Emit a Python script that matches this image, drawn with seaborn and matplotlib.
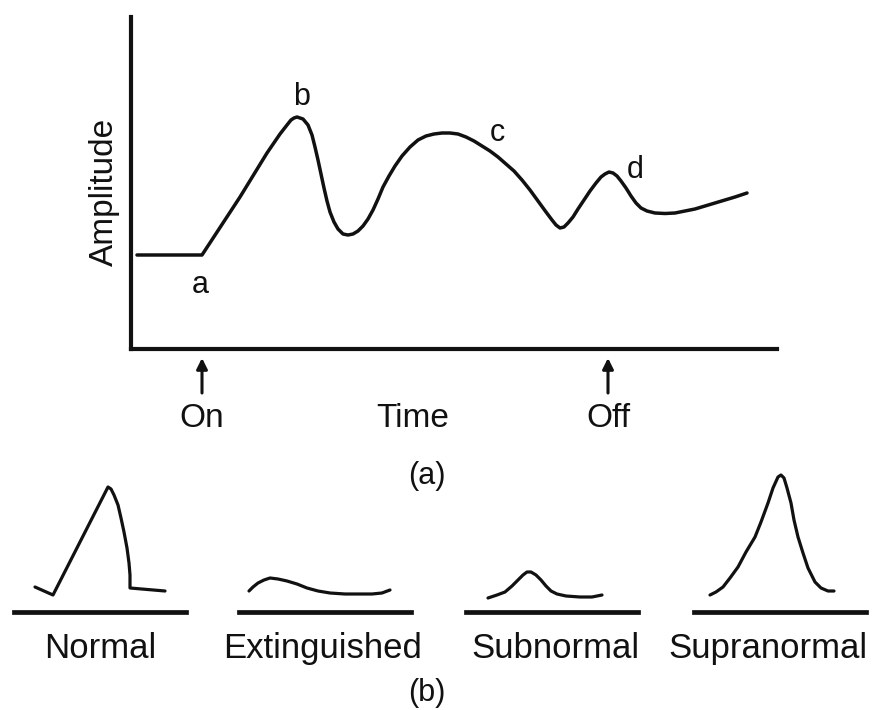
import matplotlib
matplotlib.use("Agg")
import matplotlib.pyplot as plt
import seaborn as sns

sns.set_theme(style="white")
plt.rcParams["font.family"] = ["Liberation Sans", "DejaVu Sans"]

INK = "#111111"

# (a) response to a light flash: time vs amplitude
time = [0.6, 7.1, 10.9, 13.6, 14.9, 15.6, 16.0, 16.3, 16.6, 17.2,
        17.7, 18.1, 18.4, 18.7, 19.0, 19.3, 19.6, 19.9, 20.3, 20.7,
        21.2, 21.7, 22.2, 22.7, 23.2, 23.7, 24.2, 24.7, 25.2, 25.8,
        26.4, 27.1, 27.9, 28.7, 29.5, 30.3, 31.1, 31.9, 32.7, 33.5,
        34.3, 35.1, 35.9, 36.7, 37.5, 38.3, 39.1, 39.9, 40.7, 41.5,
        42.1, 42.5, 42.9, 43.3, 43.7, 44.2, 44.7, 45.3, 45.9, 46.5,
        47.0, 47.4, 47.8, 48.2, 48.6, 49.0, 49.5, 50.0, 50.5, 51.0,
        51.6, 52.4, 53.4, 54.4, 55.4, 56.4, 57.4, 58.4, 59.4, 60.4,
        61.6]
amplitude = [9.4, 9.4, 15.2, 19.6, 21.5, 22.4, 22.9, 23.1, 23.2, 23.0,
             22.4, 21.4, 20.2, 18.9, 17.5, 16.1, 14.8, 13.7, 12.7, 12.0,
             11.5, 11.4, 11.5, 11.8, 12.3, 13.0, 13.9, 15.0, 16.2, 17.3,
             18.3, 19.3, 20.2, 20.9, 21.3, 21.5, 21.6, 21.6, 21.5, 21.2,
             20.8, 20.3, 19.8, 19.2, 18.5, 17.8, 16.9, 15.9, 14.8, 13.7,
             12.9, 12.4, 12.1, 12.2, 12.6, 13.2, 14.0, 14.9, 15.8, 16.6,
             17.2, 17.5, 17.7, 17.6, 17.3, 16.8, 16.1, 15.3, 14.6, 14.1,
             13.8, 13.6, 13.55, 13.6, 13.8, 14.0, 14.3, 14.6, 14.9, 15.2,
             15.6]

wave_labels = ["a", "b", "c", "d"]
wave_label_t = [6.9, 17.1, 36.6, 50.4]
wave_label_amp = [6.4, 25.2, 21.6, 17.9]

stim_names = ["On", "Off"]
stim_t = [7.1, 47.7]

# (b) response types
type_names = ["Normal", "Extinguished", "Subnormal", "Supranormal"]
normal_x = [2.1, 3.9, 9.4, 9.7, 10.0, 10.4, 10.7, 11.0, 11.3, 11.5, 11.6, 11.6, 15.1]
normal_y = [2.5, 1.7, 12.5, 12.3, 11.7, 10.7, 9.4, 8.0, 6.4, 4.9, 3.7, 2.4, 2.1]
extinct_x = [1.0, 1.4, 1.9, 2.5, 3.1, 3.9, 4.8, 5.8, 6.8, 7.9, 9.1, 10.6, 12.1,
             13.3, 14.3, 15.1]
extinct_y = [2.1, 2.5, 2.9, 3.2, 3.4, 3.3, 3.1, 2.8, 2.4, 2.1, 1.9, 1.8, 1.8,
             1.8, 1.9, 2.2]
subnormal_x = [2.2, 3.1, 3.9, 4.6, 5.2, 5.7, 6.1, 6.5, 7.0, 7.5, 8.0, 8.5, 9.1,
               10.0, 11.4, 12.6, 13.6]
subnormal_y = [1.4, 1.7, 2.0, 2.6, 3.2, 3.7, 4.0, 4.0, 3.7, 3.2, 2.6, 2.1, 1.8,
               1.6, 1.5, 1.5, 1.7]
supra_x = [1.6, 2.2, 2.9, 3.6, 4.4, 5.2, 6.1, 6.7, 7.4, 7.9, 8.4, 8.7, 9.0, 9.3,
           9.7, 10.0, 10.4, 10.9, 11.4, 12.1, 12.7, 13.4, 14.0]
supra_y = [1.7, 2.0, 2.5, 3.4, 4.5, 6.0, 7.5, 9.0, 10.9, 12.4, 13.5, 13.7, 13.4,
           12.4, 10.9, 9.2, 7.5, 5.9, 4.4, 3.0, 2.4, 2.1, 2.1]

W, H = 878, 710
fig = plt.figure(figsize=(W / 100, H / 100), dpi=100)


def px_box(left, top, right, bottom):
    return [left / W, 1 - bottom / H, (right - left) / W, (bottom - top) / H]


line_kw = dict(sort=False, estimator=None, color=INK,
               solid_joinstyle="round", solid_capstyle="round")

# ---- panel (a) ----
ax = fig.add_axes(px_box(131, 17, 777, 349))
sns.lineplot(x=time, y=amplitude, ax=ax, linewidth=2.5, **line_kw)
ax.set_xlim(0, 64.6)
ax.set_ylim(0, 33.2)
ax.set_xticks([])
ax.set_yticks([])
ax.set_xlabel("")
ax.set_ylabel("")
for side in ["top", "right"]:
    ax.spines[side].set_visible(False)
for side in ["left", "bottom"]:
    ax.spines[side].set_color(INK)
    ax.spines[side].set_linewidth(3.0)

for lab, t, a in zip(wave_labels, wave_label_t, wave_label_amp):
    ax.text(t, a, lab, ha="center", va="center", fontsize=22, color=INK)

for name, t in zip(stim_names, stim_t):
    ax.annotate("", xy=(t, -0.9), xytext=(t, -4.4),
                arrowprops=dict(arrowstyle="-|>", color=INK, lw=2.2,
                                mutation_scale=16, shrinkA=0, shrinkB=0),
                annotation_clip=False)
    ax.text(t, -7.8, name, ha="center", va="baseline", fontsize=24,
            color=INK, clip_on=False)
ax.text(28.2, -7.8, "Time", ha="center", va="baseline", fontsize=24,
        color=INK, clip_on=False)

fig.text(104 / W, 1 - 192 / H, "Amplitude", rotation=90, ha="center",
         va="center", fontsize=24, color=INK)
fig.text(427 / W, 1 - 484 / H, "(a)", ha="center", va="baseline",
         fontsize=22, color=INK)

# ---- panel (b) ----
panel_left = [14, 239, 466, 694]
label_center = [100, 323, 555, 768]
waves = [(normal_x, normal_y), (extinct_x, extinct_y),
         (subnormal_x, subnormal_y), (supra_x, supra_y)]
for left, name, (wx, wy), lc in zip(panel_left, type_names, waves, label_center):
    bx = fig.add_axes(px_box(left, 470, left + 172, 612))
    sns.lineplot(x=wx, y=wy, ax=bx, linewidth=2.3, **line_kw)
    bx.set_xlim(0, 17.2)
    bx.set_ylim(0, 14.2)
    bx.set_xticks([])
    bx.set_yticks([])
    bx.set_xlabel("")
    bx.set_ylabel("")
    for side in ["top", "right", "left"]:
        bx.spines[side].set_visible(False)
    bx.spines["bottom"].set_color(INK)
    bx.spines["bottom"].set_linewidth(3.4)
    bx.patch.set_alpha(0)
    fig.text(lc / W, 1 - 658 / H, name, ha="center", va="baseline",
             fontsize=25, color=INK)

fig.text(427 / W, 1 - 701 / H, "(b)", ha="center", va="baseline",
         fontsize=22, color=INK)

fig.savefig("out.png", dpi=100, facecolor="white")
